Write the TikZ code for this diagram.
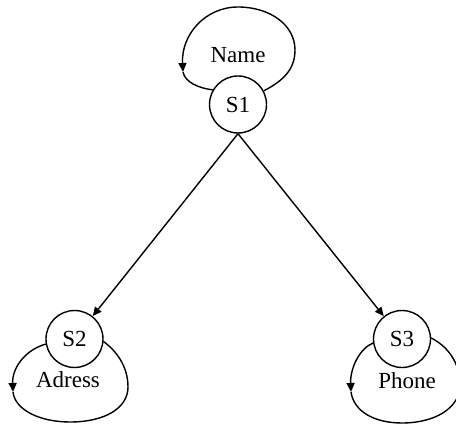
\documentclass[tikz,border=0pt]{standalone}
\usepackage{fontspec}
\setmainfont{Liberation Serif}
\usetikzlibrary{arrows.meta}
\begin{document}
\begin{tikzpicture}[x=1pt,y=-1pt,
  state/.style={circle,draw,line width=1.4pt,minimum size=57pt,inner sep=0pt,font=\fontsize{23}{27}\selectfont},
  lbl/.style={font=\fontsize{23}{27}\selectfont,inner sep=0pt},
  conn/.style={line width=1.4pt},
  tip/.style={-{Triangle[length=9pt,width=8pt]}}]
\useasboundingbox (0,0) rectangle (456,425);
\clip (0,0) rectangle (456,425);
\node[state] (S1) at (238,104.5) {S1};
\node[state] (S2) at (74.5,339) {S2};
\node[state] (S3) at (402,339) {S3};
\node[lbl] (L1) at (238,55) {Name};
\node[lbl] (L2) at (68,380) {Adress};
\node[lbl] (L3) at (407,381) {Phone};
% edges
\draw[conn,tip] (S1.south) -- (S2);
\draw[conn,tip] (S1.south) -- (S3);
% loop S1
\coordinate (a1) at (183,72);
\draw[conn,tip] (S1.28) .. controls (285,80) and (295,68) .. (295,50)
  .. controls (295,25) and (270,7) .. (238,7)
  .. controls (205,7) and (181,35) .. (a1);
\draw[conn] (a1) .. controls (185,82) and (198,88) .. (S1.150);
% loop S2
\coordinate (a2) at (13,392);
\draw[conn,tip] (S2.190) .. controls (25,350) and (12,368) .. (a2);
\draw[conn] (a2) .. controls (15,410) and (40,422) .. (70,422)
  .. controls (105,422) and (128,408) .. (128,387)
  .. controls (128,365) and (115,350) .. (S2.-5);
% loop S3
\coordinate (a3) at (351,392);
\draw[conn,tip] (S3.188) .. controls (360,348) and (350,368) .. (a3);
\draw[conn] (a3) .. controls (354,412) and (375,423) .. (402,423)
  .. controls (435,423) and (460,408) .. (460,385)
  .. controls (460,360) and (445,345) .. (S3.2);
\end{tikzpicture}
\end{document}
